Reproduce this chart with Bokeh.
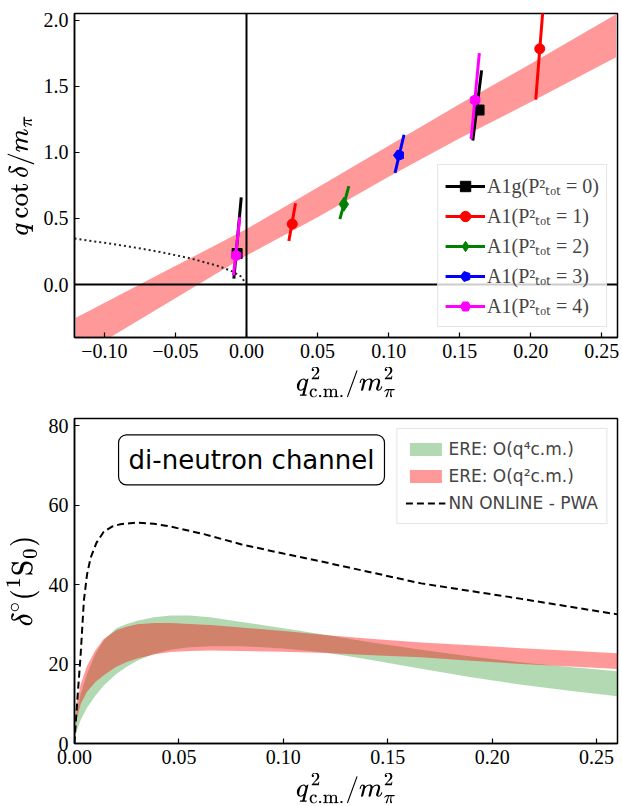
from bokeh.plotting import figure
from bokeh.layouts import column
from bokeh.models import Span, Legend, LegendItem, FixedTicker, Label, Range1d
from bokeh.embed import file_html
from bokeh.resources import INLINE

SERIF = "Liberation Serif"
SANS = "DejaVu Sans"

# ---------------- upper panel: q cot(delta) vs q^2 ----------------
band_q2 = [-0.12, -0.06, 0.0, 0.05, 0.10, 0.15, 0.20, 0.26]
band_lo = [-0.555, -0.167, 0.22, 0.51, 0.815, 1.107, 1.38, 1.72]
band_hi = [-0.25, 0.085, 0.42, 0.735, 1.05, 1.365, 1.67, 2.045]

bound_q2 = [-0.121, -0.10, -0.08, -0.06, -0.04, -0.02, -0.01, -0.004, 0.0]
bound_qcot = [0.348, 0.316, 0.283, 0.245, 0.20, 0.141, 0.10, 0.063, 0.0]

irrep_labels = ["A1g(P²ₜₒₜ = 0)", "A1(P²ₜₒₜ = 1)", "A1(P²ₜₒₜ = 2)",
                "A1(P²ₜₒₜ = 3)", "A1(P²ₜₒₜ = 4)"]
irrep_colors = ["black", "red", "green", "blue", "magenta"]

q2 = [[-0.0066, 0.1636], [0.0322, 0.2063], [0.0685], [0.1073], [-0.0073, 0.1608]]
qcot = [[0.235, 1.32], [0.458, 1.783], [0.6075], [0.978], [0.22, 1.395]]
q2_lo = [[-0.0089, 0.1592], [0.0298, 0.2035], [0.0657], [0.1045], [-0.0092, 0.1580]]
qcot_lo = [[0.045, 1.09], [0.33, 1.398], [0.495], [0.845], [0.07, 1.10]]
q2_hi = [[-0.0037, 0.1654], [0.0345, 0.2092], [0.0720], [0.1108], [-0.0047, 0.1638]]
qcot_hi = [[0.66, 1.62], [0.615, 2.17], [0.745], [1.133], [0.51, 1.75]]

top_xticks = [-0.10, -0.05, 0.0, 0.05, 0.10, 0.15, 0.20, 0.25]
top_yticks = [0.0, 0.5, 1.0, 1.5, 2.0]

# ---------------- lower panel: phase shift ----------------
ere_q2 = [0.0, 0.001, 0.003, 0.006, 0.010, 0.014, 0.020, 0.025, 0.030, 0.038,
          0.046, 0.055, 0.065, 0.080, 0.100, 0.120, 0.140, 0.166, 0.190,
          0.214, 0.240, 0.260]
ere4_lo = [0.0, 3.0, 6.0, 9.0, 12.0, 14.6, 17.5, 19.3, 20.8, 22.5,
           23.6, 24.2, 24.5, 24.5, 23.9, 22.9, 21.2, 18.8, 16.7,
           14.8, 13.1, 11.9]
ere4_hi = [0.0, 8.0, 12.5, 17.5, 22.5, 26.0, 29.0, 30.1, 30.9, 31.8,
           32.2, 32.2, 31.8, 30.6, 29.0, 27.4, 25.6, 23.6, 21.9,
           20.4, 19.1, 18.2]
ere2_lo = [0.0, 6.0, 10.0, 13.0, 15.5, 17.2, 19.3, 20.5, 21.4, 22.4,
           23.0, 23.3, 23.4, 23.3, 23.1, 22.8, 22.3, 21.7, 20.8,
           20.0, 19.3, 18.75]
ere2_hi = [0.0, 10.0, 15.0, 19.5, 23.5, 26.3, 28.5, 29.4, 30.0, 30.3,
           30.3, 30.1, 29.8, 29.2, 28.3, 27.3, 26.4, 25.4, 24.7,
           24.0, 23.3, 22.7]

pwa_q2 = [0.0, 0.0003, 0.0015, 0.0029, 0.0045, 0.006, 0.0077, 0.0105, 0.014,
          0.018, 0.022, 0.030, 0.038, 0.046, 0.062, 0.080, 0.100, 0.120,
          0.166, 0.214, 0.260]
pwa_delta = [0.0, 3.0, 12.0, 22.0, 36.0, 42.5, 46.7, 50.5, 53.3,
             54.6, 55.2, 55.6, 55.3, 54.6, 52.7, 50.1, 47.8, 45.6,
             40.3, 36.4, 32.5]

bot_xticks = [0.0, 0.05, 0.10, 0.15, 0.20, 0.25]
bot_yticks = [0, 20, 40, 60, 80]


def fmt(v, nd):
    s = f"{v:.{nd}f}"
    return s.replace("-", "\u2212")


def style(p):
    p.outline_line_color = "black"
    p.outline_line_width = 1.5
    p.outline_line_alpha = 1
    p.grid.visible = False
    p.background_fill_color = "white"
    p.border_fill_color = "white"
    for ax in (p.xaxis, p.yaxis):
        ax.major_tick_in = 5
        ax.major_tick_out = 0
        ax.minor_tick_in = 0
        ax.minor_tick_out = 0
        ax.axis_line_width = 1.5
        ax.axis_line_color = "black"
        ax.major_tick_line_width = 1.2
        ax.major_tick_line_color = "black"
        ax.major_label_text_font = SERIF
        ax.major_label_text_font_size = "20px"
        ax.major_label_text_color = "black"
        ax.major_label_standoff = 6
        ax.axis_label_text_font_size = "22px"
        ax.axis_label_text_color = "black"
        ax.axis_label_standoff = 6


# ----- upper figure -----
p1 = figure(width=622, height=400, output_backend="svg", toolbar_location=None,
            x_range=Range1d(-0.121, 0.261), y_range=Range1d(-0.4, 2.05),
            min_border_left=74, min_border_right=5, min_border_top=13, min_border_bottom=61)
style(p1)
p1.xaxis.ticker = FixedTicker(ticks=top_xticks)
p1.yaxis.ticker = FixedTicker(ticks=top_yticks)
p1.xaxis.major_label_overrides = {t: fmt(t, 2) for t in top_xticks}
p1.yaxis.major_label_overrides = {t: fmt(t, 1) for t in top_yticks}
p1.xaxis.axis_label = r"$$q^2_{\rm c.m.}/m^2_\pi$$"
p1.yaxis.axis_label = r"$$q\cot\delta/m_\pi$$"

p1.varea(x=band_q2, y1=band_lo, y2=band_hi, fill_color="red", fill_alpha=0.4)
p1.line(bound_q2, bound_qcot, line_color="#222222", line_width=2, line_dash="2 3")
p1.add_layout(Span(location=0, dimension="width", line_color="black", line_width=2))
p1.add_layout(Span(location=0, dimension="height", line_color="black", line_width=2))

items1 = []
for i, lab in enumerate(irrep_labels):
    c = irrep_colors[i]
    seg = p1.segment(x0=q2_lo[i], y0=qcot_lo[i], x1=q2_hi[i], y1=qcot_hi[i],
                     line_color=c, line_width=3)
    if i == 0:
        mk = p1.scatter(q2[i], qcot[i], marker="square", size=10, color=c)
    elif i == 1:
        mk = p1.scatter(q2[i], qcot[i], marker="circle", size=10, color=c)
    elif i == 2:
        mk = p1.scatter(q2[i], qcot[i], marker="diamond", size=14, color=c)
    elif i == 3:
        mk = p1.ngon(q2[i], qcot[i], radius=5.5, radius_units="screen", n=5,
                     angle=1.5708, fill_color=c, line_color=c)
    else:
        mk = p1.scatter(q2[i], qcot[i], marker="hex", size=11, color=c, angle=1.5708)
    items1.append(LegendItem(label=lab, renderers=[seg, mk]))

leg1 = Legend(items=items1, location="bottom_right", margin=10, padding=7, spacing=3,
              label_text_font=SERIF, label_text_font_size="20px", label_height=26,
              glyph_height=26, glyph_width=40, label_standoff=2,
              border_line_color="#cccccc", border_line_width=1,
              background_fill_color="white", background_fill_alpha=0.8)
p1.add_layout(leg1)

# ----- lower figure -----
p2 = figure(width=622, height=406, output_backend="svg", toolbar_location=None,
            x_range=Range1d(0.0, 0.26), y_range=Range1d(0.0, 81.8),
            min_border_left=74, min_border_right=5, min_border_top=18, min_border_bottom=61)
style(p2)
p2.xaxis.ticker = FixedTicker(ticks=bot_xticks)
p2.yaxis.ticker = FixedTicker(ticks=bot_yticks)
p2.xaxis.major_label_overrides = {t: fmt(t, 2) for t in bot_xticks}
p2.yaxis.major_label_overrides = {t: str(t) for t in bot_yticks}
p2.xaxis.axis_label = r"$$q^2_{\rm c.m.}/m^2_\pi$$"
p2.yaxis.axis_label = r"$$\delta^\circ(^1\mathrm{S}_0)$$"
p2.yaxis.axis_label_text_font_size = "24px"

g4 = p2.varea(x=ere_q2, y1=ere4_lo, y2=ere4_hi, fill_color="green", fill_alpha=0.3)
g2 = p2.varea(x=ere_q2, y1=ere2_lo, y2=ere2_hi, fill_color="red", fill_alpha=0.4)
pw = p2.line(pwa_q2, pwa_delta, line_color="black", line_width=2, line_dash="7 4")

leg2 = Legend(items=[LegendItem(label="ERE: O(q⁴c.m.)", renderers=[g4]),
                     LegendItem(label="ERE: O(q²c.m.)", renderers=[g2]),
                     LegendItem(label="NN ONLINE - PWA", renderers=[pw])],
              location="top_right", margin=10, padding=8, spacing=3,
              label_text_font=SANS, label_text_font_size="17px", label_height=24,
              glyph_height=16, glyph_width=40, label_standoff=3,
              border_line_color="#cccccc", border_line_width=1,
              background_fill_color="white", background_fill_alpha=0.8)
p2.add_layout(leg2)

p2.add_layout(Label(x=0.0211, y=71.4, text="di-neutron channel", text_font=SANS,
                    text_font_size="26px", text_baseline="middle", text_color="black",
                    border_line_color="black", border_line_width=1.2,
                    background_fill_color="white", padding=10, border_radius=8))

layout = column(p1, p2)
open("out.html", "w").write(file_html(layout, INLINE))
